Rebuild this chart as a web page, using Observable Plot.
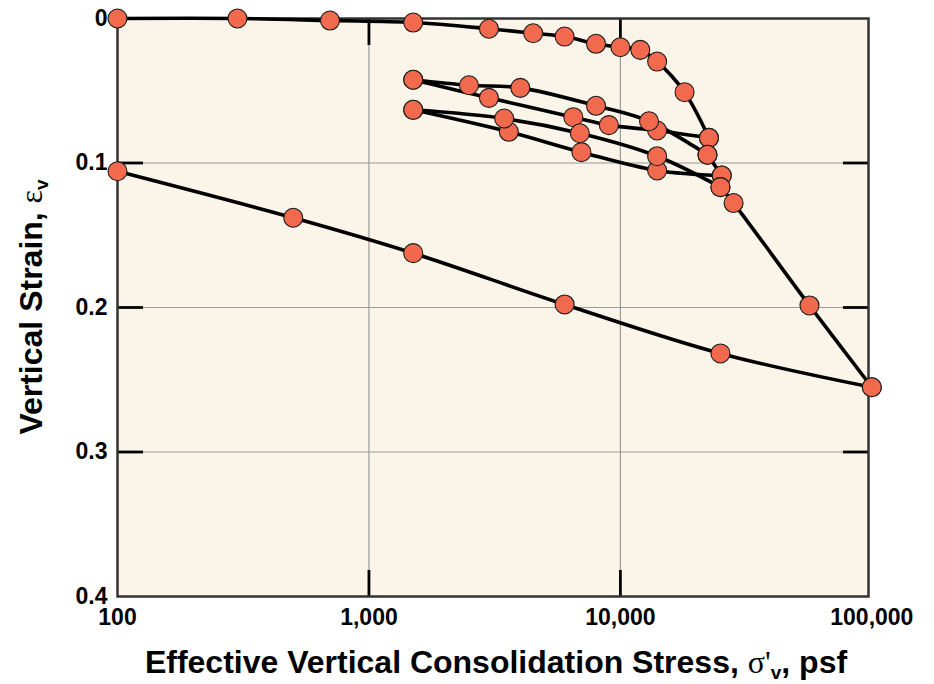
<!DOCTYPE html>
<html><head><meta charset="utf-8">
<script src="https://cdn.jsdelivr.net/npm/d3@7"></script>
<script src="https://cdn.jsdelivr.net/npm/@observablehq/plot@0.6"></script>
<style>body{margin:0;background:#fff}</style>
</head><body><div id="chart"></div>
<script>
// Tick values and labels
const xTicks = [100, 1000, 10000, 100000];
const xTickLabels = ["100", "1,000", "10,000", "100,000"];
const yTicks = [0, 0.1, 0.2, 0.3, 0.4];
const yTickLabels = ["0", "0.1", "0.2", "0.3", "0.4"];
const xGrid = [1000, 10000];
const yGrid = [0.1, 0.2, 0.3];

// Test path, split into stages (stress in psf, vertical strain)
const load1Stress   = [100, 300, 700, 1500, 3000, 4500, 6000, 8000, 10000, 12000, 14000, 18000, 22500];
const load1Strain   = [0, 0, 0.0014, 0.0028, 0.0071, 0.0102, 0.0125, 0.0175, 0.0199, 0.0217, 0.0298, 0.051, 0.0826];
const unload1Stress = [22500, 14000, 9000, 6500, 3000, 1500];
const unload1Strain = [0.0826, 0.0775, 0.0738, 0.0683, 0.0549, 0.0424];
const reload1Stress = [1500, 2500, 4000, 8000, 13000, 22200];
const reload1Strain = [0.0424, 0.0462, 0.048, 0.0604, 0.0711, 0.0943];
const load2Stress   = [22200, 25300];
const load2Strain   = [0.0943, 0.1087];
const unload2Stress = [25300, 14000, 7000, 3600, 1500];
const unload2Strain = [0.1087, 0.1052, 0.0925, 0.0784, 0.0632];
const reload2Stress = [1500, 3450, 6900, 14000, 25000];
const reload2Strain = [0.0632, 0.0692, 0.0794, 0.0953, 0.1167];
const load3Stress   = [25000, 28200, 56500, 100000];
const load3Strain   = [0.1167, 0.1277, 0.1986, 0.2552];
const unload3Stress = [100000, 25000, 6000, 1500, 500, 100];
const unload3Strain = [0.2552, 0.2318, 0.1979, 0.1624, 0.1379, 0.1057];

const stages = [
  ["load1", load1Stress, load1Strain],
  ["unload1", unload1Stress, unload1Strain],
  ["reload1", reload1Stress, reload1Strain],
  ["load2", load2Stress, load2Strain],
  ["unload2", unload2Stress, unload2Strain],
  ["reload2", reload2Stress, reload2Strain],
  ["load3", load3Stress, load3Strain],
  ["unload3", unload3Stress, unload3Strain]
];
const rows = stages.flatMap(([name, xs, ys]) => xs.map((x, i) => ({stage: name, stress: x, strain: ys[i]})));

const tickOpts = {tickFormat: () => "", strokeWidth: 2.8, stroke: "black", label: null};

const plot = Plot.plot({
  width: 934,
  height: 684,
  marginLeft: 117,
  marginRight: 66,
  marginTop: 18,
  marginBottom: 88,
  style: {fontFamily: "'Liberation Sans', Arial, Helvetica, sans-serif", fontWeight: "bold", fontSize: "23px", color: "black", background: "white"},
  x: {type: "log", domain: [100, 97000], axis: null, label: null},
  y: {domain: [0, 0.4], reverse: true, axis: null, label: null},
  marks: [
    Plot.frame({fill: "#FBF5E9", stroke: "none"}),
    Plot.gridX(xGrid, {stroke: "#9a9a9a", strokeOpacity: 1, strokeWidth: 1.2}),
    Plot.gridY(yGrid, {stroke: "#9a9a9a", strokeOpacity: 1, strokeWidth: 1.2}),
    // inward ticks
    Plot.axisX(xGrid, {anchor: "bottom", tickSize: 26, dy: -26, ...tickOpts}),
    Plot.axisX(xGrid, {anchor: "top", tickSize: 26, dy: 26, ...tickOpts}),
    Plot.axisY(yGrid, {anchor: "left", tickSize: 26, dx: 26, ...tickOpts}),
    Plot.axisY(yGrid, {anchor: "right", tickSize: 26, dx: -26, ...tickOpts}),
    // tick labels
    Plot.axisX(xTicks, {anchor: "bottom", tickSize: 0, tickPadding: 12, label: null, tickFormat: d => xTickLabels[xTicks.indexOf(d)], fontSize: 23, fontWeight: "bold", fill: "black"}),
    Plot.axisY(yTicks, {anchor: "left", tickSize: 0, tickPadding: 10, label: null, tickFormat: d => yTickLabels[yTicks.indexOf(d)], fontSize: 23, fontWeight: "bold", fill: "black"}),
    Plot.frame({stroke: "#333", strokeWidth: 2.5, strokeOpacity: 1}),
    Plot.line(rows, {x: "stress", y: "strain", z: "stage", curve: "catmull-rom", stroke: "black", strokeWidth: 3.6}),
    Plot.dot(rows, {x: "stress", y: "strain", r: 9.5, fill: "#F26A4E", stroke: "#1a1a1a", strokeWidth: 1.1})
  ]
});

const svg = d3.select(plot);
const xt = svg.append("text")
  .attr("x", 496).attr("y", 673).attr("text-anchor", "middle")
  .style("font", "bold 32px 'Liberation Sans', Arial, Helvetica, sans-serif").style("fill", "black");
xt.append("tspan").text("Effective Vertical Consolidation Stress, ");
xt.append("tspan").style("font-family", "'Liberation Serif', 'Times New Roman', serif").style("font-weight", "normal").text("σ'");
xt.append("tspan").style("font-size", "19px").attr("dy", 6).text("v");
xt.append("tspan").attr("dy", -6).text(", psf");

const yt = svg.append("text")
  .attr("transform", "translate(42,307) rotate(-90)").attr("text-anchor", "middle")
  .style("font", "bold 32px 'Liberation Sans', Arial, Helvetica, sans-serif").style("fill", "black");
yt.append("tspan").text("Vertical Strain, ");
yt.append("tspan").style("font-family", "'Liberation Serif', 'Times New Roman', serif").style("font-weight", "normal").text("ε");
yt.append("tspan").style("font-size", "19px").attr("dy", 6).text("v");

document.getElementById("chart").appendChild(plot);
</script>
</body></html>
